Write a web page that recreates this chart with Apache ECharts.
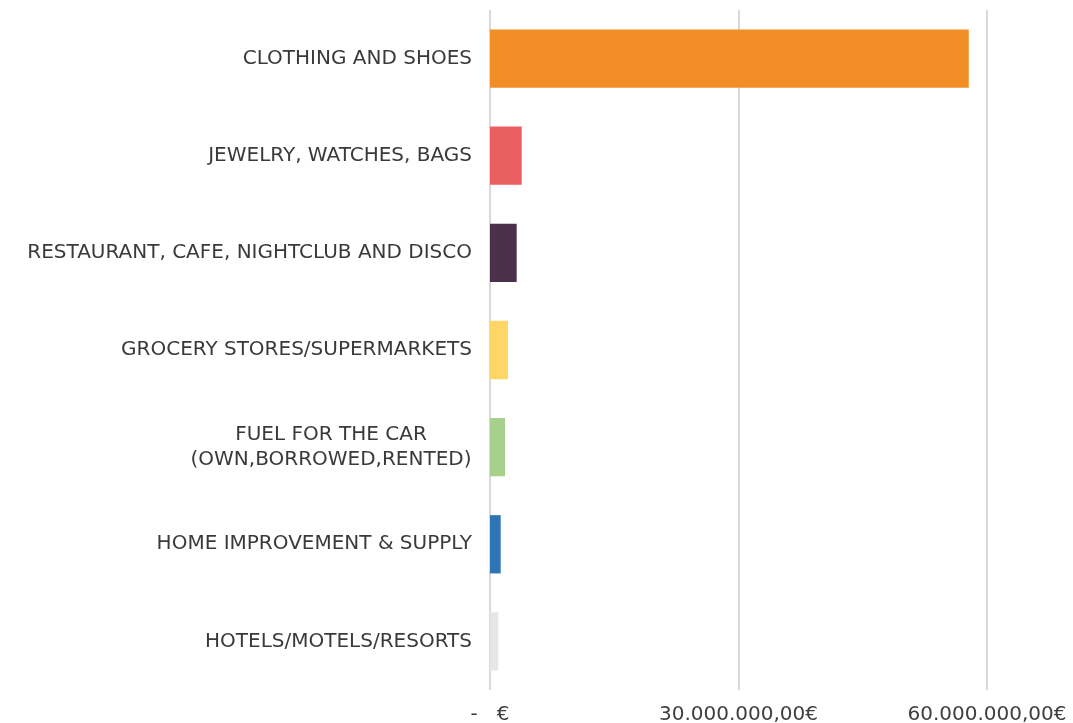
<!DOCTYPE html>
<html>
<head>
<meta charset="utf-8">
<style>
  html, body { margin: 0; padding: 0; background: #fff; }
  #chart { width: 1073px; height: 723px; }
</style>
<script src="https://cdn.jsdelivr.net/npm/echarts@6/dist/echarts.min.js"></script>
</head>
<body>
<div id="chart"></div>
<script>
// Spending by merchant category (EUR), top to bottom as drawn
const categories = [
  'CLOTHING AND SHOES',
  'JEWELRY, WATCHES, BAGS',
  'RESTAURANT, CAFE, NIGHTCLUB AND DISCO',
  'GROCERY STORES/SUPERMARKETS',
  'FUEL FOR THE CAR\n(OWN,BORROWED,RENTED)',
  'HOME IMPROVEMENT & SUPPLY',
  'HOTELS/MOTELS/RESORTS'
];
const amounts = [57800000, 3830000, 3220000, 2170000, 1810000, 1290000, 1000000];
const barColors = ['#F28E26', '#EA5F61', '#4A3049', '#FDD666', '#A8D08D', '#2E75B6', '#E7E6E6'];
const tickValues = [0, 30000000, 60000000];

const FONT = '"DejaVu Sans", "Noto Sans", sans-serif';

function euro(v) {
  if (v === 0) return '-   €';
  const s = String(Math.round(v)).replace(/\B(?=(\d{3})+(?!\d))/g, '.');
  return s + ',00€';
}

const chart = echarts.init(document.getElementById('chart'));

chart.setOption({
  animation: false,
  grid: { left: 490, right: 86, top: 10, bottom: 33, containLabel: false, outerBoundsMode: 'none' },
  xAxis: {
    type: 'value',
    min: tickValues[0],
    max: tickValues[tickValues.length - 1],
    interval: tickValues[1] - tickValues[0],
    axisLine: { show: false },
    axisTick: { show: false },
    splitLine: { lineStyle: { color: '#d9d9d9', width: 2 } },
    axisLabel: {
      formatter: euro,
      color: '#404040',
      fontFamily: FONT,
      fontSize: 20,
      margin: 15
    }
  },
  yAxis: {
    type: 'category',
    inverse: true,
    data: categories,
    axisLine: { show: false },
    axisTick: { show: false },
    axisLabel: {
      color: '#3a3a3a',
      fontFamily: FONT,
      fontSize: 20,
      margin: 18,
      lineHeight: 25,
      formatter: (v) => v.indexOf('\n') >= 0
        ? v.split('\n').map((l) => '{c|' + l + '}').join('\n')
        : v,
      rich: {
        c: { width: 282, align: 'center', color: '#3a3a3a', fontFamily: FONT, fontSize: 20, lineHeight: 25 }
      }
    }
  },
  series: [{
    type: 'bar',
    data: amounts.map((v, i) => ({ value: v, itemStyle: { color: barColors[i] } })),
    barCategoryGap: '40%'
  }]
});
</script>
</body>
</html>
